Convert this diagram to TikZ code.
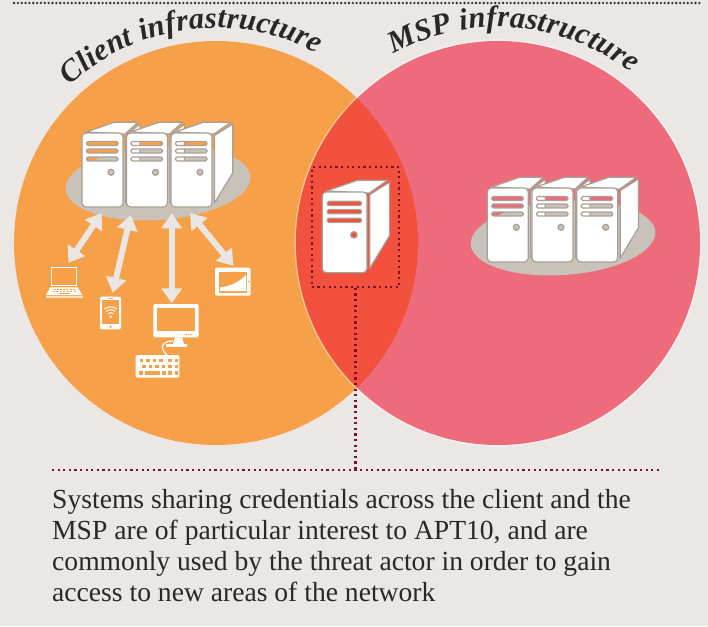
\documentclass[tikz,border=0pt]{standalone}
\usepackage{fontspec}
\setmainfont{Liberation Serif}
\usepackage{tikz}
\usetikzlibrary{arrows.meta,calc,positioning}
\usetikzlibrary{shapes.geometric,decorations.text}

\definecolor{pagegrey}{HTML}{EBE7E4}
\definecolor{clientorange}{HTML}{F6A149}
\definecolor{msppink}{HTML}{EE6B7C}
\definecolor{sharedred}{HTML}{F2513D}
\definecolor{platform}{HTML}{C9C2BB}
\definecolor{casing}{HTML}{A99F95}
\definecolor{maroon}{HTML}{7D1030}
\definecolor{arrowgrey}{HTML}{EAE6E3}
\definecolor{inktext}{HTML}{2B2727}

\newcommand{\titlefont}{\fontsize{30.5}{31}\selectfont\bfseries\itshape\color{inktext}}

\tikzset{
	casepart/.style={fill=white,draw=casing,line width=1.2pt,line join=round},
	platformdisc/.style={ellipse,fill=platform,minimum width=185pt,minimum height=74pt,rotate=4,inner sep=0pt},
	linkarrow/.style={draw=arrowgrey,line width=6pt,{Triangle[width=20pt,length=15pt,fill=arrowgrey]}-{Triangle[width=20pt,length=15pt,fill=arrowgrey]}},
	devicepart/.style={fill=white,draw=none},
	devicehole/.style={fill=clientorange,draw=none},
	dotrule/.style={draw=maroon,line width=2.2pt,dash pattern=on 2.2pt off 3.4pt},
	pics/servertower/.style={code={
		\draw[casepart] (4,-1) -- (32.3,-10.7) -- (41+#1-2,-10.7) -- (43,1) -- cycle;
		\draw[casepart] (43.5,2.5) -- (41+#1,-9) -- (41+#1,40) -- (43.5,70) -- cycle;
		\draw[casepart,even odd rule,rounded corners=4pt] (0,0) rectangle (41,74)
			[rounded corners=1.5pt] (4.5,8.5) rectangle (36,12.5)
			(4.5,16) rectangle (36,20) (4.5,24) rectangle (36,28)
			(29,39.3) circle[radius=3pt];
	}}
}

\begin{document}
\begin{tikzpicture}[x=1pt,y=-1pt]
	\fill[pagegrey] (0,0) rectangle (708,626);
	\useasboundingbox (0,0) rectangle (708,626);

	% top rule
	\draw[black!80!pagegrey,line width=2.6pt,line cap=round,dash pattern=on 0pt off 3.85pt] (14,3) -- (703,3);

	% the two infrastructures
	\coordinate (clientcentre) at (216,243);
	\coordinate (mspcentre) at (498,243);
	\fill[clientorange] (clientcentre) circle[radius=202pt];
	\fill[msppink] (mspcentre) circle[radius=202pt];
	\begin{scope}
		\clip (clientcentre) circle[radius=202pt];
		\fill[sharedred] (mspcentre) circle[radius=202pt];
	\end{scope}
	\draw[white,opacity=.4,line width=1.2pt] (mspcentre) circle[radius=203pt];

	% titles
	\path[decorate,decoration={text along path,text align={fit to path},text={|\titlefont|Client infrastructure}}]
		($(clientcentre)+(133:215pt)$) arc[start angle=133,end angle=62,radius=215pt];
	\path[decorate,decoration={text along path,text align={fit to path},text={|\titlefont|MSP infrastructure}}]
		($(mspcentre)+(119:216pt)$) arc[start angle=119,end angle=52,radius=216pt];

	% servers
	\node[platformdisc] (clientplatform) at (158,183) {};
	\node[platformdisc] (mspplatform) at (563,238) {};
	\pic at (82,133) {servertower=17};
	\pic at (126.5,133) {servertower=17};
	\pic at (171,133) {servertower=20.7};
	\pic at (487.3,188) {servertower=17};
	\pic at (532,188) {servertower=17};
	\pic at (576.7,188) {servertower=20.7};
	\pic[scale=1.09] at (322.3,192) {servertower=20.7};

	% laptop
	\begin{scope}
		\draw[white,line width=1.4pt] (51.4,267.4) rectangle (76.6,285.4);
		\fill[devicepart] (50.3,287.3) -- (77.7,287.3) -- (82.3,295) -- (46,295) -- cycle;
		\fill[white!70!clientorange] (46,295.6) rectangle (82.5,297.8);
		\foreach \i in {0,...,6} {
			\fill[devicehole] (53.5+3.2*\i,288.6) rectangle +(2,1.2);
			\fill[devicehole] (52.5+3.5*\i,291) rectangle +(2.2,1.2);
		}
		\fill[devicehole] (59,293.2) rectangle (70,294.3);
	\end{scope}
	\coordinate (laptoptip) at (68.3,262.7);

	% phone
	\begin{scope}
		\fill[devicepart,rounded corners=2pt] (100,296.7) rectangle (121,329.3);
		\fill[devicehole] (102.3,300) rectangle (119,324);
		\fill[devicehole] (108.5,298) rectangle (113,298.9);
		\fill[devicehole] (110.6,326.8) circle[radius=1.3pt];
		\fill[white] (110.7,316.7) circle[radius=1.3pt];
		\foreach \r in {4,7,10}
			\draw[white,line width=1pt] ($(110.7,316.7)+(50:\r pt)$) arc[start angle=50,end angle=130,radius=\r pt];
	\end{scope}
	\coordinate (phonetip) at (112.7,292.7);

	% monitor and keyboard
	\begin{scope}
		\fill[devicepart,rounded corners=1.5pt] (153.3,304) rectangle (198.7,337.3);
		\fill[devicehole] (157.3,308.3) rectangle (195,331);
		\foreach \i in {0,1,2}
			\fill[devicehole] (185+2.5*\i,333.6) rectangle +(1.5,1);
		\fill[devicepart] (175,337.3) -- (182,337.3) -- (184,344) -- (173,344) -- cycle;
		\fill[devicepart] (166,344.3) rectangle (187,346.8);
		\draw[white,line width=1.2pt] (167,355) .. controls (159,348) and (162,341) .. (173,341);
		\fill[devicepart,rounded corners=1.5pt] (135.7,355) rectangle (179.3,377.7);
		\foreach \kx in {139.5,146,152.5,159,168,174.5}
			\fill[devicehole] (\kx,358.5) rectangle +(3.6,3.6);
		\foreach \kx in {142,148.5,155,161.5,168,174.5}
			\fill[devicehole] (\kx,365) rectangle +(3.6,3.4);
		\fill[devicehole] (139,371.2) rectangle +(3.6,3.4);
		\fill[devicehole] (145,371.2) rectangle (160,374.6);
		\foreach \kx in {162,168,174.5}
			\fill[devicehole] (\kx,371.2) rectangle +(3.6,3.4);
	\end{scope}
	\coordinate (monitortip) at (171.7,303.3);

	% tablet
	\begin{scope}
		\fill[devicepart,rounded corners=2pt] (215,267.7) rectangle (250.7,295.7);
		\fill[devicehole] (219.3,271.7) rectangle (246.7,292.7);
		\fill[white] (220,287.5) .. controls (231,286) and (239,282) .. (246,275) -- (246,291) -- (220,291) -- cycle;
		\fill[devicehole] (249,281.7) circle[radius=1pt];
	\end{scope}
	\coordinate (tablettip) at (233.3,265.7);

	% arrows
	\coordinate (laptoplink) at (101.7,213);
	\coordinate (phonelink) at (130.7,215);
	\coordinate (monitorlink) at (171.7,213.3);
	\coordinate (tabletlink) at (190,213);
	\draw[linkarrow] (laptoplink) -- (laptoptip);
	\draw[linkarrow] (phonelink) -- (phonetip);
	\draw[linkarrow] (monitorlink) -- (monitortip);
	\draw[linkarrow] (tabletlink) -- (tablettip);

	% shared system and caption
	\node[draw=maroon,line width=2.2pt,dash pattern=on 2.2pt off 3.4pt,minimum width=87.6pt,minimum height=119.4pt,inner sep=0pt] (sharedbox) at (355.5,227) {};
	\coordinate (rulestart) at (52,469.7);
	\coordinate (ruleend) at (660,469.7);
	\draw[dotrule] (rulestart) -- (ruleend);
	\draw[dotrule] (sharedbox.south) -- (sharedbox.south |- rulestart);
	\node[anchor=north west,inner sep=0pt,text=inktext,align=left,font=\fontsize{27.6}{31}\selectfont] (caption) at (52,489.5)
		{Systems sharing credentials across the client and the\\
		MSP are of particular interest to APT10, and are\\
		commonly used by the threat actor in order to gain\\
		access to new areas of the network};
\end{tikzpicture}
\end{document}
